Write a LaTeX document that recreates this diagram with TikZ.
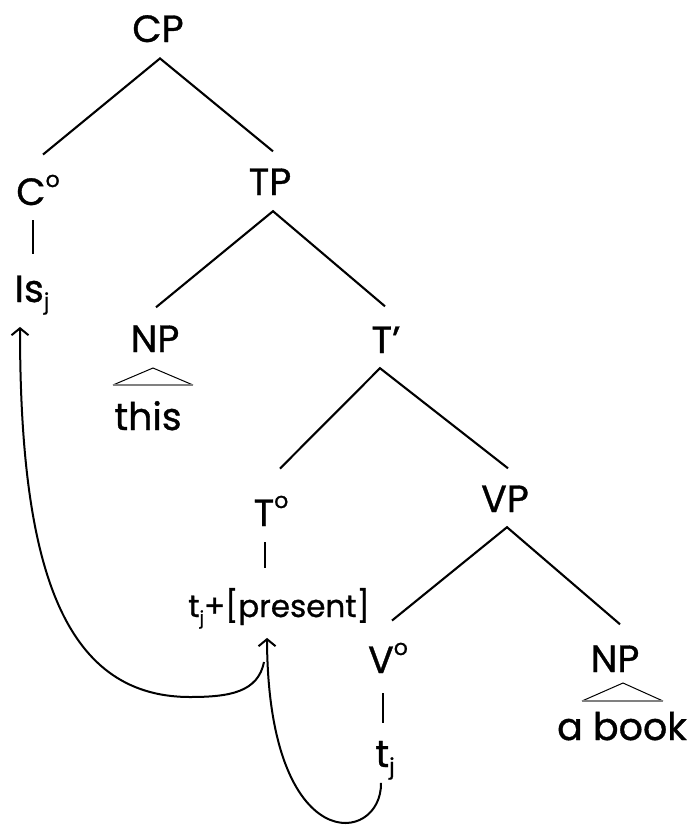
\documentclass[tikz,border=0pt]{standalone}
\usepackage{fontspec}
\setmainfont{Poppins}[FakeBold=0.9]
\usetikzlibrary{arrows.meta,calc}
\newcommand{\supo}{\raisebox{18pt}{\fontsize{22}{22}\selectfont o}}
\newcommand{\subj}[1]{\raisebox{-7pt}{\fontsize{#1}{#1}\selectfont j}}
\begin{document}
\begin{tikzpicture}[x=1pt,y=-1pt,
  lab/.style={font=\fontsize{38}{40}\selectfont, inner sep=0pt, anchor=base},
  small/.style={font=\fontsize{31}{34}\selectfont, inner sep=0pt, anchor=base},
  branch/.style={line width=2.1pt},
  tri/.style={line width=1pt},
  trib/.style={line width=1.6pt, gray},
  mv/.style={line width=2pt, -{Straight Barb[length=7pt,width=17pt,line width=2pt]}}]
\useasboundingbox (0,0) rectangle (694,825);
% labels
\node[lab] (CP) at (158,42) {CP};
\node[lab] (C) at (38,205) {C\supo};
\node[lab] (Is) at (32,302) {Is\subj{22}};
\node[lab] (TP) at (270,195) {TP};
\node[lab] (NP1) at (155,352) {NP};
\node[lab] (this) at (148,430) {this};
\node[lab] (Tb) at (386,353) {T’};
\node[lab] (T0) at (271,526) {T\supo};
\node[small] (pres) at (279,617) {t\subj{18}+[present]};
\node[lab] (VP) at (505,512) {VP};
\node[lab] (V0) at (388,673) {V\supo};
\node[lab] (tj) at (385,767) {t\subj{22}};
\node[lab] (NP2) at (615,672) {NP};
\node[lab] (abook) at (622,740) {a book};
% branches
\draw[branch] ([xshift=5pt,yshift=20pt]C.north) -- ([xshift=2pt,yshift=-16pt]CP.south) -- ([xshift=3pt,yshift=17pt]TP.north);
\draw[branch] ([xshift=-5pt,yshift=-15pt]C.south) -- ([xshift=1pt,yshift=21pt]Is.north);
\draw[branch] ([xshift=1pt,yshift=18pt]NP1.north) -- ([xshift=3pt,yshift=-16pt]TP.south) -- ([xshift=-1pt,yshift=20pt]Tb.north);
\draw[branch] ([xshift=9pt,yshift=27pt]T0.north) -- ([xshift=-6pt,yshift=-15pt]Tb.south) -- ([xshift=3pt,yshift=17pt]VP.north);
\draw[branch] ([xshift=-6pt,yshift=-16pt]T0.south) -- ([xshift=-14pt,yshift=20pt]pres.north);
\draw[branch] ([xshift=4pt,yshift=22pt]V0.north) -- ([xshift=2pt,yshift=-15pt]VP.south) -- ([xshift=5pt,yshift=21pt]NP2.north);
\draw[branch] ([xshift=-5pt,yshift=-20pt]V0.south) -- ([xshift=-2pt,yshift=18pt]tj.north);
% triangles
\draw[tri] ($(NP1.base)+(-42,33)$) -- ($(NP1.base)+(-2,16)$) -- ($(NP1.base)+(38,33)$);
\draw[trib] ($(NP1.base)+(-42,33)$) -- ($(NP1.base)+(38,33)$);
\draw[tri] ($(NP2.base)+(-33,29)$) -- ($(NP2.base)+(8,11)$) -- ($(NP2.base)+(48,29)$);
\draw[trib] ($(NP2.base)+(-33,29)$) -- ($(NP2.base)+(48,29)$);
% movement arrows
\coordinate (tjtail) at ([xshift=-4pt,yshift=-3pt]tj.south);
\coordinate (prestip) at ([xshift=-12pt,yshift=-9pt]pres.south);
\coordinate (istip) at ([xshift=-12pt,yshift=-12pt]Is.south);
\coordinate (join) at (264,662);
\draw[mv] (tjtail) .. controls (382,845) and (268,860) .. (prestip);
\draw[mv] (join) .. controls (258,692) and (230,697) .. (190,697)
  .. controls (60,697) and (20,560) .. (istip);
\end{tikzpicture}
\end{document}
